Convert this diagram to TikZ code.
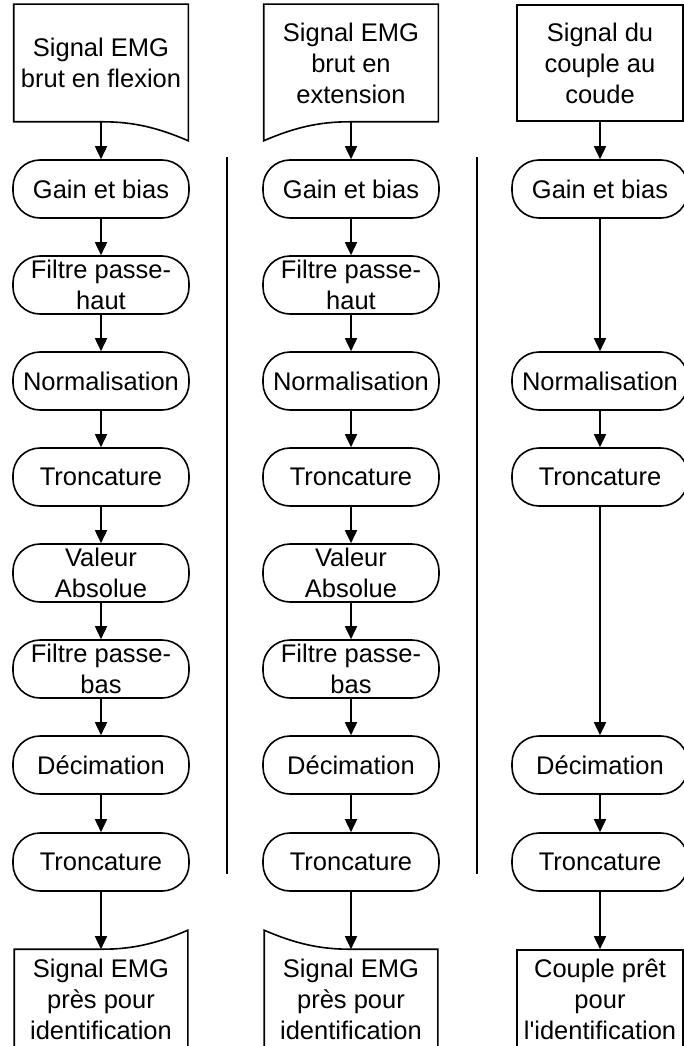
\documentclass[tikz,border=0pt]{standalone}
\usepackage{fontspec}
\setmainfont{Liberation Sans}
\usetikzlibrary{arrows.meta}

\begin{document}
\begin{tikzpicture}[x=1pt,y=-1pt,line width=1.6pt,
    every node/.style={font=\fontsize{25.5}{31}\selectfont,align=center,inner sep=0pt},
    etape/.style={draw,rounded corners=27pt,minimum width=176pt,minimum height=58pt},
    doc/.style={minimum width=173pt,minimum height=116pt},
    docbas/.style={minimum width=172pt,minimum height=98pt},
    fleche/.style={-{Triangle[width=12pt,length=13pt]}}]
	\useasboundingbox (0,0) rectangle (684,1046);
	% flexion
	\node[doc] (fdoc) at (101,63) {Signal EMG\\brut en flexion};
	\node[etape] (fgain) at (101,189) {Gain et bias};
	\node[etape] (fhaut) at (101,285) {Filtre passe-\\haut};
	\node[etape] (fnorm) at (101,381) {Normalisation};
	\node[etape] (ftronc) at (101,477) {Troncature};
	\node[etape] (fabs) at (101,573) {Valeur\\Absolue};
	\node[etape] (fbas) at (101,669) {Filtre passe-\\bas};
	\node[etape] (fdec) at (101,765) {Décimation};
	\node[etape] (ftronc2) at (101,862) {Troncature};
	\node[docbas] (fout) at (101,999) {Signal EMG\\près pour\\identification};
	\draw (fdoc.south west) -- (fdoc.north west) -- (fdoc.north east) -- ([yshift=-19pt]fdoc.south east)
		.. controls ([xshift=-30pt,yshift=-6pt]fdoc.south east) and ([xshift=-55pt]fdoc.south east) .. ([xshift=-85pt]fdoc.south east) -- cycle;
	\draw (fout.south west) -- (fout.north west) -- ([xshift=-85pt]fout.north east)
		.. controls ([xshift=-55pt]fout.north east) and ([xshift=-30pt,yshift=6pt]fout.north east) .. ([yshift=19pt]fout.north east) -- (fout.south east) -- cycle;
	\draw[fleche] (fdoc.south) -- (fgain.north);
	\draw[fleche] (fgain) -- (fhaut);
	\draw[fleche] (fhaut) -- (fnorm);
	\draw[fleche] (fnorm) -- (ftronc);
	\draw[fleche] (ftronc) -- (fabs);
	\draw[fleche] (fabs) -- (fbas);
	\draw[fleche] (fbas) -- (fdec);
	\draw[fleche] (fdec) -- (ftronc2);
	\draw[fleche] (ftronc2.south) -- (fout.north);
	% extension
	\node[doc] (edoc) at (351,63) {Signal EMG\\brut en\\extension};
	\node[etape] (egain) at (351,189) {Gain et bias};
	\node[etape] (ehaut) at (351,285) {Filtre passe-\\haut};
	\node[etape] (enorm) at (351,381) {Normalisation};
	\node[etape] (etronc) at (351,477) {Troncature};
	\node[etape] (eabs) at (351,573) {Valeur\\Absolue};
	\node[etape] (ebas) at (351,669) {Filtre passe-\\bas};
	\node[etape] (edec) at (351,765) {Décimation};
	\node[etape] (etronc2) at (351,862) {Troncature};
	\node[docbas] (eout) at (351,999) {Signal EMG\\près pour\\identification};
	\draw (edoc.south east) -- (edoc.north east) -- (edoc.north west) -- ([yshift=-19pt]edoc.south west)
		.. controls ([xshift=30pt,yshift=-6pt]edoc.south west) and ([xshift=55pt]edoc.south west) .. ([xshift=85pt]edoc.south west) -- cycle;
	\draw (eout.south east) -- (eout.north east) -- ([xshift=85pt]eout.north west)
		.. controls ([xshift=55pt]eout.north west) and ([xshift=30pt,yshift=6pt]eout.north west) .. ([yshift=19pt]eout.north west) -- (eout.south west) -- cycle;
	\draw[fleche] (edoc.south) -- (egain.north);
	\draw[fleche] (egain) -- (ehaut);
	\draw[fleche] (ehaut) -- (enorm);
	\draw[fleche] (enorm) -- (etronc);
	\draw[fleche] (etronc) -- (eabs);
	\draw[fleche] (eabs) -- (ebas);
	\draw[fleche] (ebas) -- (edec);
	\draw[fleche] (edec) -- (etronc2);
	\draw[fleche] (etronc2.south) -- (eout.north);
	% couple
	\node[doc,draw,minimum width=166pt] (cdoc) at (600,63) {Signal du\\couple au\\coude};
	\node[etape] (cgain) at (600,189) {Gain et bias};
	\node[etape] (cnorm) at (600,381) {Normalisation};
	\node[etape] (ctronc) at (600,477) {Troncature};
	\node[etape] (cdec) at (600,765) {Décimation};
	\node[etape] (ctronc2) at (600,862) {Troncature};
	\node[docbas,draw,minimum width=166pt] (cout) at (600,999) {Couple prêt\\pour\\l\textquotesingle identification};
	\draw[fleche] (cdoc) -- (cgain);
	\draw[fleche] (cgain) -- (cnorm);
	\draw[fleche] (cnorm) -- (ctronc);
	\draw[fleche] (ctronc) -- (cdec);
	\draw[fleche] (cdec) -- (ctronc2);
	\draw[fleche] (ctronc2) -- (cout);
	% separations
	\draw[line width=1.3pt] (227,157) -- (227,874);
	\draw[line width=1.3pt] (477,157) -- (477,874);
\end{tikzpicture}
\end{document}
